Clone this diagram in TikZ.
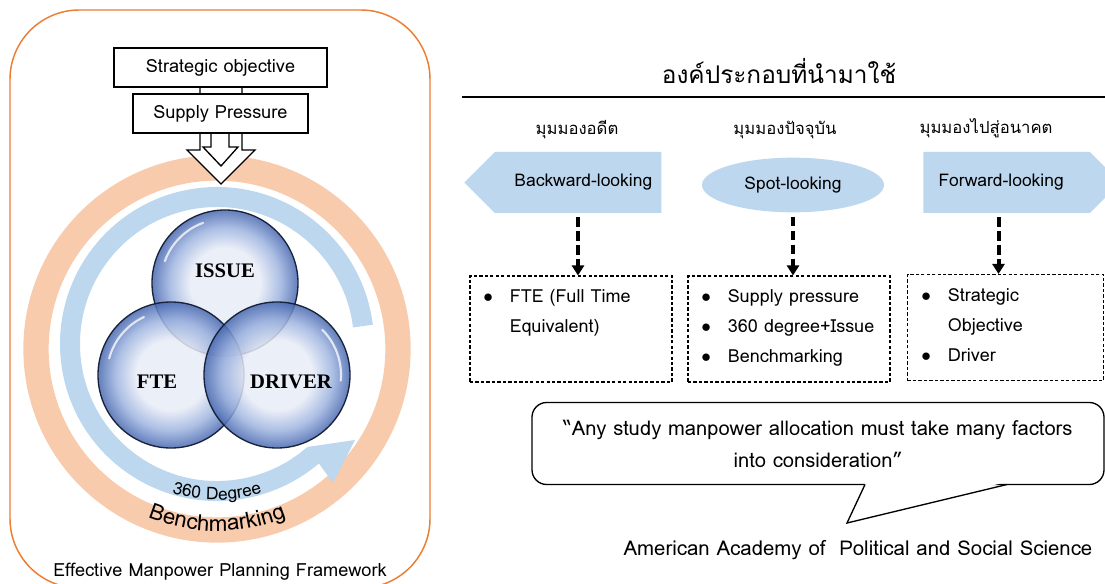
\documentclass[tikz,border=0pt]{standalone}
\usepackage{fontspec}
\setmainfont[Script=Thai]{Loma}
\newfontfamily\vennfont{Liberation Serif}
\usetikzlibrary{positioning,shapes.geometric,shapes.symbols,arrows.meta,decorations.text,calc}

\definecolor{frameorange}{HTML}{ED7D31}
\definecolor{ringorange}{HTML}{F8CBAD}
\definecolor{ringblue}{HTML}{BDD7EE}
\definecolor{bubin}{HTML}{E8ECF6}
\definecolor{bubmid}{HTML}{9DB3DF}
\definecolor{bubout}{HTML}{4868B0}
\definecolor{bubline}{HTML}{18223A}
\pgfdeclareradialshading{bubshade}{\pgfpoint{0bp}{0bp}}{color(0bp)=(bubin); color(12bp)=(bubin); color(19bp)=(bubmid); color(25bp)=(bubout); color(50bp)=(bubout)}

\begin{document}
\begin{tikzpicture}[x=0.75pt, y=0.75pt,
    labelbox/.style={rectangle, draw, line width=1pt, fill=white, minimum height=29.25pt, inner sep=0pt, font=\fontsize{13.6}{13.6}\selectfont},
    vennball/.style={circle, minimum size=109.5pt, inner sep=0pt, shade, shading=bubshade, fill opacity=0.85, draw=bubline, line width=1pt},
    venntext/.style={font=\vennfont\bfseries\fontsize{15.5}{15.5}\selectfont},
    shine/.style={white, line width=1.6pt, opacity=0.75, line cap=round},
    viewshape/.style={fill=ringblue, minimum height=45.75pt, inner sep=0pt, font=\fontsize{13.1}{13.1}\selectfont},
    viewhead/.style={font=\fontsize{12.5}{12.5}\selectfont},
    listbox/.style={rectangle, draw, dash pattern=on 2.5pt off 1.6pt, line width=0.8pt, minimum height=79.5pt, inner sep=0pt},
    listtext/.style={anchor=north west, align=left, inner sep=0pt, font=\fontsize{13.5}{22.5}\selectfont},
    dasharrow/.style={-{Triangle[width=9pt, length=7.5pt]}, line width=3pt, dash pattern=on 7pt off 3.5pt, shorten <=3pt}
]
    \useasboundingbox (0,0) rectangle (1105,-584);

    % Left panel
    \draw[frameorange, line width=1.1pt, rounded corners=52pt] (10,-10) rectangle (430,-588);
    \draw[ringorange, line width=19pt] (217,-349) circle[radius=181];
    \draw[ringblue, line width=15pt] ([shift={(217,-344)}]7:147) arc[start angle=7, end angle=311, radius=147];
    \fill[ringblue] (307,-447) -- (355,-440) -- (333,-483) -- cycle;

    \path[decorate, decoration={text along path, text align=center,
        text={|\fontsize{13}{13}\selectfont|360 Degree}}]
        ([shift={(217,-346)}]200:154) arc[start angle=200, end angle=340, radius=154];
    \path[decorate, decoration={text along path, text align=center,
        text={|\fontsize{16.7}{16.7}\selectfont|Benchmarking}}]
        ([shift={(217,-346)}]200:185) arc[start angle=200, end angle=340, radius=185];

    % Block arrows
    \draw[fill=white, line width=1pt] (200,-70) -- (200,-150) -- (187,-150) -- (221,-184)
        -- (255,-150) -- (242,-150) -- (242,-70) -- cycle;
    \draw[fill=white, line width=1pt] (211,-120) -- (211,-147) -- (203,-147) -- (221,-166)
        -- (238,-147) -- (229,-147) -- (229,-120) -- cycle;

    % Nodes
    \node[labelbox, minimum width=131.25pt] (supply) at (220.5,-113.5) {Supply Pressure};
    \node[labelbox, minimum width=159.75pt] (strategic) at (220.5,-67.5) {Strategic objective};

    \node[vennball] (issue) at (225,-283) {};
    \node[vennball] (fte) at (171,-375) {};
    \node[vennball] (driver) at (277,-375) {};
    \foreach \c/\a in {issue/135, fte/140, driver/20}
        \draw[shine] ($(\c)+(\a-25:64)$) arc[start angle=\a-25, end angle=\a+25, radius=64];
    \node[venntext] (issuetxt) at (225,-271) {ISSUE};
    \node[venntext] (ftetxt) at (157,-382) {FTE};
    \node[venntext] (drivertxt) at (291,-382) {DRIVER};

    \node[font=\fontsize{13.6}{13.6}\selectfont, fill=white, inner sep=1pt] (framecap) at (220,-572) {Effective Manpower Planning Framework};

    % Right panel
    \node[font=\fontsize{18.3}{18.3}\selectfont] (title) at (779,-71) {องค์ประกอบที่นำมาใช้};
    \draw[line width=1.2pt] (462,-97) -- (1105,-97);

    \node[viewshape, signal, signal to=west, signal pointer angle=90, minimum width=147.75pt] (back) at (578,-182.5) {\hspace*{8pt}Backward-looking};
    \node[viewshape, ellipse, minimum width=136.5pt, minimum height=41pt] (spot) at (793,-185) {Spot-looking};
    \node[viewshape, signal, signal to=east, signal pointer angle=90, minimum width=147.75pt] (fwd) at (1006.5,-182.5) {Forward-looking\hspace*{8pt}};

    \node[viewhead] (backhead) at (577,-130) {มุมมองอดีต};
    \node[viewhead] (spothead) at (785,-130) {มุมมองปัจจุบัน};
    \node[viewhead] (fwdhead) at (986,-128) {มุมมองไปสู่อนาคต};

    \node[listbox, minimum width=151.5pt] (box1) at (571,-329) {};
    \node[listbox, minimum width=151.5pt] (box2) at (789,-329) {};
    \node[listbox, minimum width=147pt] (box3) at (1005.5,-327.5) {};

    \node[listtext] (list1) at (483,-289) {\makebox[20pt][l]{$\bullet$}FTE (Full Time\\\hspace*{20pt}Equivalent)};
    \node[listtext] (list2) at (701,-289) {\makebox[20pt][l]{$\bullet$}Supply pressure\\\makebox[20pt][l]{$\bullet$}360 degree+Issue\\\makebox[20pt][l]{$\bullet$}Benchmarking};
    \node[listtext] (list3) at (921,-288) {\makebox[20pt][l]{$\bullet$}Strategic\\\hspace*{20pt}Objective\\\makebox[20pt][l]{$\bullet$}Driver};

    % Arrows
    \draw[dasharrow] (back.south) -- (back.south |- box1.north);
    \draw[dasharrow] (spot.south) -- (spot.south |- box2.north);
    \draw[dasharrow] ([xshift=-6pt]fwd.south) -- ([xshift=-6pt]fwd.south |- box3.north);

    % Quote
    \node[rectangle, draw, line width=1pt, rounded corners=11pt, minimum width=429pt, minimum height=61.5pt,
        align=center, font=\fontsize{15.1}{24}\selectfont] (quote) at (818,-443.5)
        {“Any study manpower allocation must take many factors\\into consideration”};
    \coordinate (tip) at (847,-523);
    \fill[white] (866,-482) -- (tip) -- (1006,-482) -- cycle;
    \draw[line width=1pt] (865,-484.5) -- (tip) -- (1007,-484.5);
    \node[font=\fontsize{15.3}{15.3}\selectfont] (source) at (858,-550) {American Academy of\ \ Political and Social Science};
\end{tikzpicture}
\end{document}
